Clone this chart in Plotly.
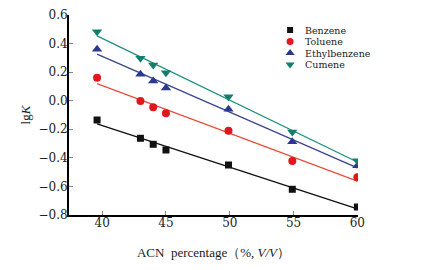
import numpy as np
import plotly.graph_objects as go

acn = [39.6, 43, 44, 45, 49.9, 54.9, 60]
benzene = [-0.135, -0.263, -0.305, -0.345, -0.45, -0.62, -0.744]
toluene = [0.161, -0.002, -0.046, -0.088, -0.21, -0.422, -0.536]
ethylbenzene = [0.36, 0.185, 0.138, 0.089, -0.06, -0.287, -0.455]
cumene = [0.483, 0.297, 0.25, 0.196, 0.028, -0.219, -0.42]

names = ["Benzene", "Toluene", "Ethylbenzene", "Cumene"]
series = [benzene, toluene, ethylbenzene, cumene]
colors = ["#111111", "#e0181e", "#2a3990", "#137e6c"]
line_colors = ["#111111", "#e8503a", "#3a4590", "#1f9080"]
symbols = ["square", "circle", "triangle-up", "triangle-down"]
sizes = [7, 8, 9, 9]

serif = "Liberation Serif"
tickfont = "DejaVu Serif"

# legend layout (paper fraction of plot area)
leg_x, leg_y0, leg_dy, leg_gap = 0.765, 0.925, 0.0575, 0.045

fig = go.Figure()
xs = np.array(acn)
for i, (name, ys, c, lc, s, sz) in enumerate(zip(names, series, colors, line_colors, symbols, sizes)):
    k, b = np.polyfit(xs, np.array(ys), 1)
    xl = np.array([xs.min(), xs.max()])
    fig.add_trace(go.Scatter(x=xl, y=k * xl + b, mode="lines",
                             line=dict(color=lc, width=1.3), showlegend=False, hoverinfo="skip"))
    fig.add_trace(go.Scatter(x=acn, y=ys, mode="markers", name=name, showlegend=False,
                             marker=dict(symbol=s, size=sz, color=c, line=dict(width=0))))
    # custom compact legend
    ly = leg_y0 - i * leg_dy
    fig.add_trace(go.Scatter(x=[leg_x], y=[ly], xaxis="x2", yaxis="y2", mode="markers",
                             showlegend=False, hoverinfo="skip", cliponaxis=False,
                             marker=dict(symbol=s, size=sz - 1, color=c, line=dict(width=0))))
    fig.add_annotation(x=leg_x + leg_gap, y=ly, xref="x2", yref="y2", text=name,
                       showarrow=False, xanchor="left", yanchor="middle",
                       font=dict(family=tickfont, size=9.5, color="#222222"))

fig.update_layout(
    width=422, height=270,
    margin=dict(l=61, r=72, t=7, b=63, autoexpand=False),
    paper_bgcolor="white", plot_bgcolor="white",
    font=dict(family=serif, size=13, color="#222222"),
    showlegend=False,
    xaxis=dict(range=[37.4, 60.05], tickvals=[40, 45, 50, 55, 60],
               ticks="inside", ticklen=4, tickcolor="#888888",
               tickfont=dict(family=tickfont, size=12), ticklabelstandoff=-4,
               showline=True, linecolor="black", linewidth=2,
               showgrid=False, zeroline=False, automargin=False,
               title=dict(text="ACN  percentage（%, <i>V/V</i>）", font=dict(size=13), standoff=18)),
    yaxis=dict(range=[-0.8, 0.6], tickvals=[-0.8, -0.6, -0.4, -0.2, 0.0, 0.2, 0.4, 0.6],
               tickformat=".1f", ticks="inside", ticklen=4, tickcolor="#888888",
               tickfont=dict(family=tickfont, size=12), ticklabelstandoff=-3,
               showline=True, linecolor="black", linewidth=2,
               showgrid=False, zeroline=False, automargin=False,
               title=dict(text="lg<i>K</i>", font=dict(size=13), standoff=5)),
    xaxis2=dict(range=[0, 1], overlaying="x", visible=False, fixedrange=True),
    yaxis2=dict(range=[0, 1], overlaying="y", visible=False, fixedrange=True),
)
fig.write_html("out.html")
